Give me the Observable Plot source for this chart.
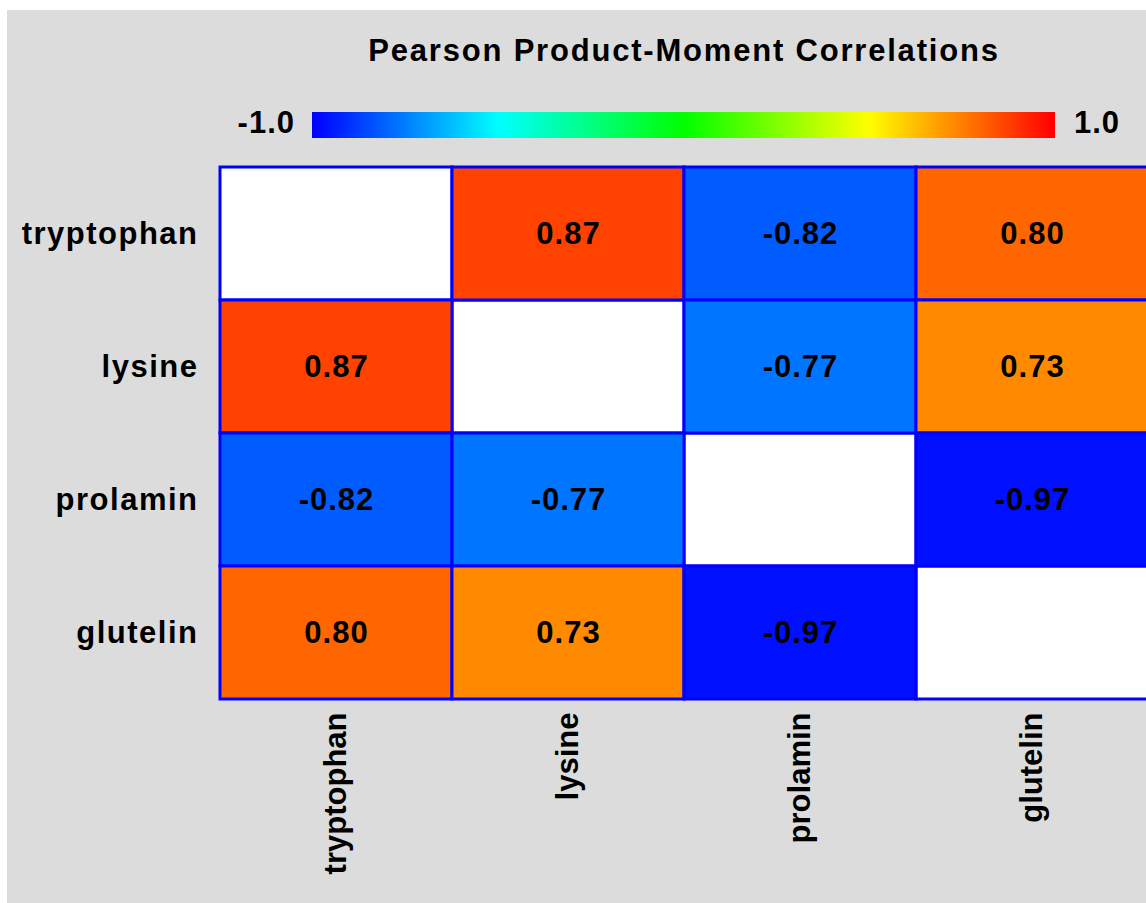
<!DOCTYPE html>
<html><head><meta charset="utf-8">
<script src="https://cdn.jsdelivr.net/npm/d3@7"></script>
<script src="https://cdn.jsdelivr.net/npm/@observablehq/plot@0.6"></script>
<style>
html,body{margin:0;padding:0;background:#fff;}
#page{position:relative;width:1146px;height:903px;overflow:hidden;font-family:"Liberation Sans",Arial,sans-serif;font-weight:bold;color:#000;}
#bg{position:absolute;left:7px;top:10px;right:0;bottom:0;background:#dcdcdc;}
#title{position:absolute;left:220px;width:928px;top:33px;text-align:center;font-size:31px;letter-spacing:1.8px;line-height:36px;white-space:nowrap;}
.lab{position:absolute;top:105px;font-size:31px;line-height:36px;letter-spacing:1px;white-space:nowrap;}
#labLo{right:851px;}
#labHi{left:1074px;}
#ramp{position:absolute;left:312px;top:112px;}
#chart{position:absolute;left:0;top:150px;}
.yax text{letter-spacing:1.5px;}
.xax text{letter-spacing:0px;}
</style>
</head><body>
<div id="page">
  <div id="bg"></div>
  <div id="title"></div>
  <div class="lab" id="labLo"></div>
  <div id="ramp"></div>
  <div class="lab" id="labHi"></div>
  <div id="chart"></div>
</div>
<script>
const titleText = "Pearson Product-Moment Correlations";
const variables = ["tryptophan", "lysine", "prolamin", "glutelin"];
const correlations = [
  [1.00, 0.87, -0.82, 0.80],
  [0.87, 1.00, -0.77, 0.73],
  [-0.82, -0.77, 1.00, -0.97],
  [0.80, 0.73, -0.97, 1.00]
];
const colorStops = [-1, -0.5, 0, 0.5, 1];
const colorRange = ["#0000ff", "#00ffff", "#00ff00", "#ffff00", "#ff0000"];
const legendLabels = ["-1.0", "1.0"];

const cells = [];
variables.forEach((r, i) => variables.forEach((c, j) => {
  cells.push({row: r, col: c, value: correlations[i][j], diag: i === j});
}));
const diagCells = cells.filter(d => d.diag);
const offCells = cells.filter(d => !d.diag);

const colorOpts = {type: "linear", domain: colorStops, range: colorRange, interpolate: "rgb"};

document.getElementById("title").textContent = titleText;
document.getElementById("labLo").textContent = legendLabels[0];
document.getElementById("labHi").textContent = legendLabels[1];

const ramp = Plot.legend({
  color: colorOpts,
  legend: "ramp",
  width: 743, height: 26,
  marginTop: 0, marginBottom: 0, marginLeft: 0, marginRight: 0,
  ticks: [],
  style: {background: "none", overflow: "visible"}
});
document.getElementById("ramp").appendChild(ramp);

const font = {fontFamily: "'Liberation Sans', Arial, sans-serif", fontSize: "31px", fontWeight: "bold", letterSpacing: "1px", background: "none", color: "#000", overflow: "visible"};

const chart = Plot.plot({
  width: 1146,
  height: 753,
  marginTop: 15,
  marginBottom: 203,
  marginLeft: 220,
  marginRight: 0,
  style: font,
  x: {domain: variables, range: [220, 1148], padding: 0, label: null},
  y: {domain: variables, padding: 0, label: null},
  color: colorOpts,
  marks: [
    Plot.cell(diagCells, {x: "col", y: "row", fill: "white", stroke: "#0000ff", strokeWidth: 3, inset: 0}),
    Plot.cell(offCells, {x: "col", y: "row", fill: "value", stroke: "#0000ff", strokeWidth: 3, inset: 0}),
    Plot.text(offCells, {x: "col", y: "row", text: d => d.value.toFixed(2), fill: "black", fontSize: 31, fontWeight: "bold"}),
    Plot.axisY({tickSize: 0, tickPadding: 22, fontSize: 31, fontWeight: "bold", className: "yax"}),
    Plot.axisX({anchor: "bottom", tickRotate: -90, tickSize: 0, tickPadding: 12, fontSize: 31, fontWeight: "bold", className: "xax"})
  ]
});
document.getElementById("chart").appendChild(chart);
</script>
</body></html>
